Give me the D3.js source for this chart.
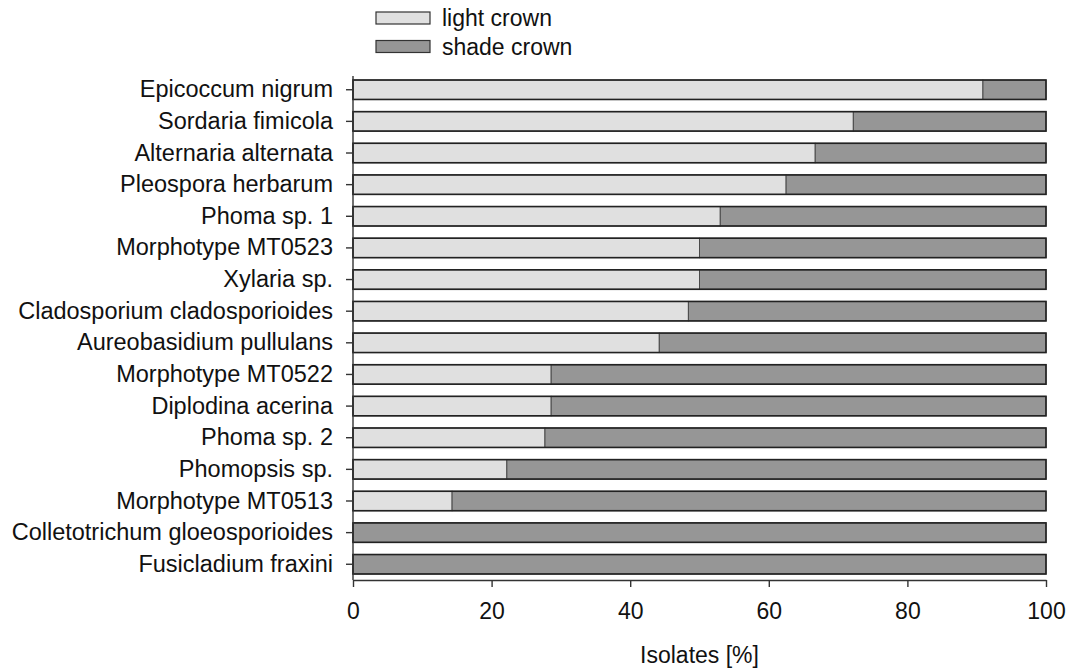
<!DOCTYPE html>
<html>
<head>
<meta charset="utf-8">
<script src="https://cdn.jsdelivr.net/npm/d3@7"></script>
<style>
  body { margin: 0; background: #fff; }
  svg { font-family: "Liberation Sans", Arial, sans-serif; }
</style>
</head>
<body>
<div id="chart"></div>
<script>
// species, top to bottom
const species = [
  "Epicoccum nigrum",
  "Sordaria fimicola",
  "Alternaria alternata",
  "Pleospora herbarum",
  "Phoma sp. 1",
  "Morphotype MT0523",
  "Xylaria sp.",
  "Cladosporium cladosporioides",
  "Aureobasidium pullulans",
  "Morphotype MT0522",
  "Diplodina acerina",
  "Phoma sp. 2",
  "Phomopsis sp.",
  "Morphotype MT0513",
  "Colletotrichum gloeosporioides",
  "Fusicladium fraxini"
];

// % of isolates from the light crown (shade crown is the rest)
const lightCrown = [90.9, 72.2, 66.7, 62.5, 53.0, 50.0, 50.0, 48.4, 44.2, 28.6, 28.6, 27.7, 22.2, 14.3, 0, 0];
const shadeCrown = lightCrown.map(v => 100 - v);

const seriesNames = ["light crown", "shade crown"];
const seriesColors = ["#e0e0e0", "#969696"];
const xTicks = [0, 20, 40, 60, 80, 100];

const width = 1071, height = 670;
const margin = { top: 74, right: 25, bottom: 90, left: 353 };
const fontSize = 23;

const svg = d3.select("#chart").append("svg")
  .attr("width", width)
  .attr("height", height);

const x = d3.scaleLinear()
  .domain([0, 100])
  .range([margin.left, 1046]);

const y = d3.scaleBand()
  .domain(species)
  .range([margin.top, 580])
  .paddingInner(0.385)
  .paddingOuter(0.19);

const rows = species.map((s, i) => ({ name: s, light: lightCrown[i], shade: shadeCrown[i] }));
const stacked = d3.stack().keys(["light", "shade"])(rows);

svg.append("g")
  .selectAll("g")
  .data(stacked)
  .join("g")
  .attr("fill", (d, i) => seriesColors[i])
  .selectAll("rect")
  .data(d => d.filter(p => p[1] - p[0] > 0))
  .join("rect")
  .attr("x", d => x(d[0]))
  .attr("width", d => x(d[1]) - x(d[0]))
  .attr("y", d => y(d.data.name))
  .attr("height", y.bandwidth())
  .attr("stroke", "#4a4a4a")
  .attr("stroke-width", 1);

// outline over each full bar
svg.append("g")
  .selectAll("rect")
  .data(rows)
  .join("rect")
  .attr("x", x(0))
  .attr("width", x(100) - x(0))
  .attr("y", d => y(d.name))
  .attr("height", y.bandwidth())
  .attr("fill", "none")
  .attr("stroke", "#222")
  .attr("stroke-width", 1.6);

// y axis
const yAxis = svg.append("g")
  .attr("transform", `translate(${x(0)},0)`)
  .call(d3.axisLeft(y).tickSize(7).tickPadding(13).tickSizeOuter(0));
yAxis.select(".domain").attr("stroke", "#333").attr("stroke-width", 1.4).attr("d", `M0,76V580`);
yAxis.selectAll(".tick line").attr("stroke", "#333").attr("stroke-width", 1.4);
yAxis.selectAll("text").attr("font-size", 23.5).attr("fill", "#111")
  .attr("font-family", "'Liberation Sans', Arial, sans-serif");

// x axis
const xAxis = svg.append("g")
  .attr("transform", "translate(0,580)")
  .call(d3.axisBottom(x).tickValues(xTicks).tickSize(7).tickPadding(16).tickSizeOuter(0));
xAxis.select(".domain").attr("stroke", "#333").attr("stroke-width", 1.4);
xAxis.selectAll(".tick line").attr("stroke", "#333").attr("stroke-width", 1.4);
xAxis.selectAll("text").attr("font-size", fontSize).attr("fill", "#111")
  .attr("font-family", "'Liberation Sans', Arial, sans-serif");

svg.append("text")
  .attr("x", (x(0) + x(100)) / 2)
  .attr("y", 663)
  .attr("text-anchor", "middle")
  .attr("font-size", fontSize)
  .attr("fill", "#111")
  .text("Isolates [%]");

// legend
const legend = svg.append("g")
  .selectAll("g")
  .data(seriesNames)
  .join("g")
  .attr("transform", (d, i) => `translate(376,${12 + i * 28.5})`);

legend.append("rect")
  .attr("width", 54)
  .attr("height", 12)
  .attr("fill", (d, i) => seriesColors[i])
  .attr("stroke", "#333")
  .attr("stroke-width", 1.2);

legend.append("text")
  .attr("x", 66)
  .attr("y", 6)
  .attr("dy", "0.35em")
  .attr("font-size", fontSize)
  .attr("fill", "#111")
  .text(d => d);
</script>
</body>
</html>
